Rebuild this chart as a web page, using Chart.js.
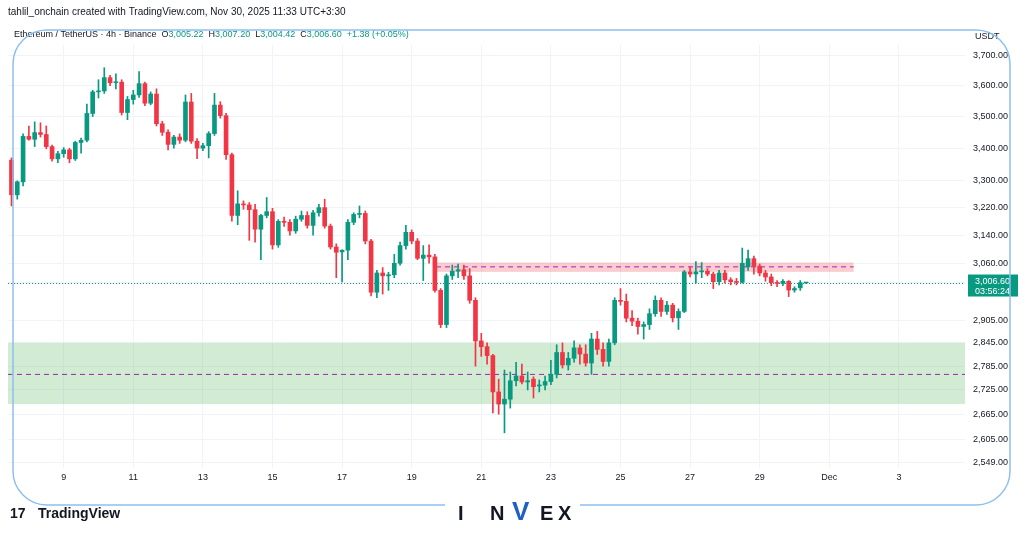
<!DOCTYPE html>
<html>
<head>
<meta charset="utf-8">
<script src="https://cdn.jsdelivr.net/npm/chart.js@4.4.1/dist/chart.umd.min.js"></script>
<style>
  html, body { margin: 0; padding: 0; background: #fff; }
  #wrap { width: 1024px; height: 538px; position: relative; }
</style>
</head>
<body>
<div id="wrap"><canvas id="chart" width="1024" height="538"></canvas></div>
<script>
// 4h candles, open / high / low / close, starting Nov 7 12:00
let candles = [
    [3363,3370,3225,3258],[3258,3300,3245,3297],[3297,3445,3285,3437],[3437,3470,3425,3428],
    [3428,3483,3405,3449],[3449,3480,3435,3443],[3443,3470,3398,3405],[3405,3410,3360,3367],
    [3367,3390,3355,3383],[3383,3402,3372,3395],[3395,3400,3355,3367],[3367,3422,3362,3418],
    [3418,3432,3385,3425],[3425,3540,3420,3510],[3510,3585,3500,3580],[3580,3620,3560,3583],
    [3583,3660,3575,3627],[3627,3635,3600,3610],[3610,3640,3590,3612],[3612,3620,3505,3513],
    [3513,3565,3490,3555],[3555,3585,3540,3570],[3570,3647,3562,3607],[3607,3612,3535,3543],
    [3543,3580,3538,3573],[3573,3590,3470,3477],[3477,3485,3440,3450],[3450,3458,3395,3412],
    [3412,3440,3400,3435],[3435,3445,3415,3425],[3425,3570,3420,3547],[3547,3575,3415,3422],
    [3422,3430,3368,3400],[3400,3415,3392,3408],[3408,3452,3370,3446],[3446,3575,3440,3537],
    [3537,3548,3495,3503],[3503,3510,3365,3380],[3380,3385,3180,3197],[3197,3270,3170,3231],
    [3231,3240,3215,3228],[3228,3235,3125,3214],[3214,3230,3120,3157],[3157,3200,3070,3197],
    [3197,3250,3190,3208],[3208,3218,3100,3112],[3112,3185,3105,3180],[3180,3192,3165,3177],
    [3177,3185,3140,3152],[3152,3195,3145,3186],[3186,3210,3180,3197],[3197,3208,3160,3168],
    [3168,3212,3140,3205],[3205,3230,3195,3220],[3220,3245,3160,3166],[3166,3172,3100,3106],
    [3106,3115,3020,3091],[3092,3098,3008,3097],[3097,3185,3070,3177],[3177,3205,3170,3200],
    [3200,3225,3190,3203],[3203,3210,3115,3123],[3123,3128,2970,2980],[2980,3040,2965,3033],
    [3033,3048,2975,3025],[3025,3035,2985,3028],[3028,3085,3020,3060],[3060,3120,3055,3110],
    [3110,3168,3100,3148],[3148,3155,3115,3123],[3123,3130,3070,3074],[3074,3110,3012,3083],
    [3083,3112,3060,3078],[3078,3085,2980,2985],[2985,2990,2885,2893],[2893,3030,2885,3025],
    [3025,3055,3015,3038],[3038,3058,3020,3042],[3042,3055,3015,3025],[3025,3045,2950,2958],
    [2958,2965,2785,2850],[2850,2870,2810,2835],[2835,2845,2790,2812],[2812,2815,2668,2720],
    [2720,2752,2665,2690],[2690,2775,2620,2702],[2702,2770,2680,2748],[2748,2795,2735,2760],
    [2760,2790,2740,2745],[2745,2770,2725,2748],[2752,2758,2705,2733],[2735,2750,2720,2737],
    [2737,2760,2725,2746],[2746,2800,2738,2764],[2764,2840,2755,2820],[2820,2845,2780,2788],
    [2788,2820,2775,2805],[2805,2850,2795,2832],[2832,2840,2790,2816],[2816,2840,2785,2793],
    [2793,2870,2764,2855],[2855,2875,2815,2828],[2828,2845,2785,2797],[2797,2855,2785,2845],
    [2845,2965,2840,2958],[2958,2990,2945,2955],[2955,2975,2900,2910],[2910,2930,2890,2902],
    [2902,2910,2868,2888],[2888,2900,2855,2893],[2893,2935,2880,2922],[2922,2970,2915,2958],
    [2958,2965,2915,2928],[2928,2955,2920,2945],[2945,2950,2900,2911],[2911,2935,2880,2928],
    [2928,3040,2925,3036],[3036,3050,3022,3030],[3030,3065,3005,3036],[3036,3062,3020,3038],
    [3038,3045,3025,3030],[3030,3035,2990,3009],[3009,3040,3000,3033],[3033,3040,3005,3014],
    [3014,3020,3000,3009],[3009,3018,3000,3007],[3007,3103,3005,3060],[3050,3097,3040,3073],
    [3073,3080,3030,3052],[3052,3058,3025,3033],[3033,3040,3010,3022],[3022,3030,2998,3006],
    [3006,3012,2995,3004],[3004,3015,2998,3010],[3010,3012,2968,2986],[2986,2995,2980,2990],
    [2992,3012,2985,3006],[3005.22,3007.20,3004.42,3006.60]
]
let startDay = 7.5
let xTicks = [9, 11, 13, 15, 17, 19, 21, 23, 25, 27, 29, 31, 33]
let xTickLabels = ['9', '11', '13', '15', '17', '19', '21', '23', '25', '27', '29', 'Dec', '3']
let yTicks = [2549, 2605, 2665, 2725, 2785, 2845, 2905, 3006.6, 3060, 3140, 3220, 3300, 3400, 3500, 3600, 3700]
let supplyZone = [3036, 3062, 3050]   // low, high, mid line
let supplyZoneDays = [19.7, 31.7]
let demandZone = [2690, 2845, 2764]
let lastPrice = 3006.6

const UP = '#089981'
const DOWN = '#f23645'

let wicks = []
let bodies = []
let colors = []
for (let i = 0; i < candles.length; i++) {
    let c = candles[i]
    let t = startDay + i / 6
    wicks.push({x: t, y: [c[2], c[1]]})
    bodies.push({x: t, y: [c[0], c[3]]})
    colors.push(c[3] >= c[0] ? UP : DOWN)
}

function fmt(v) {
    return v.toLocaleString('en-US', {minimumFractionDigits: 2, maximumFractionDigits: 2})
}

let overlay = {
    id: 'overlay',
    beforeDatasetsDraw(chart) {
        let ctx = chart.ctx
        let a = chart.chartArea
        let x = chart.scales.x
        let y = chart.scales.y
        ctx.save()
        // demand zone
        ctx.fillStyle = 'rgba(76, 175, 80, 0.25)'
        let gy1 = y.getPixelForValue(demandZone[1])
        let gy0 = y.getPixelForValue(demandZone[0])
        ctx.fillRect(a.left, gy1, a.right - a.left, gy0 - gy1)
        // supply zone
        ctx.fillStyle = 'rgba(242, 54, 69, 0.25)'
        let rx0 = x.getPixelForValue(supplyZoneDays[0])
        let rx1 = x.getPixelForValue(supplyZoneDays[1])
        let ry1 = y.getPixelForValue(supplyZone[1])
        let ry0 = y.getPixelForValue(supplyZone[0])
        ctx.fillRect(rx0, ry1, rx1 - rx0, ry0 - ry1)
        ctx.strokeStyle = '#9c27b0'
        ctx.lineWidth = 1
        ctx.setLineDash([5, 4])
        ctx.beginPath()
        let my = y.getPixelForValue(supplyZone[2])
        ctx.moveTo(rx0, my); ctx.lineTo(rx1, my)
        my = y.getPixelForValue(demandZone[2])
        ctx.moveTo(a.left, my); ctx.lineTo(a.right, my)
        ctx.stroke()
        // last price line
        ctx.strokeStyle = UP
        ctx.setLineDash([1, 2])
        ctx.beginPath()
        let py = Math.round(y.getPixelForValue(lastPrice)) + 0.5
        ctx.moveTo(a.left, py); ctx.lineTo(a.right, py)
        ctx.stroke()
        ctx.restore()
    },
    afterDraw(chart) {
        let ctx = chart.ctx
        let y = chart.scales.y
        ctx.save()
        // price label
        let py = y.getPixelForValue(lastPrice)
        ctx.fillStyle = UP
        ctx.fillRect(968, py - 8, 50, 22)
        ctx.fillStyle = '#fff'
        ctx.font = '9px "Liberation Sans", Arial'
        ctx.textBaseline = 'middle'
        ctx.fillText(fmt(lastPrice), 975, py - 1)
        ctx.fillText('03:56:24', 975, py + 9)
        ctx.fillStyle = '#131722'
        ctx.fillText('USDT', 975, 37)

        // header
        ctx.font = '10px "Liberation Sans", Arial'
        ctx.fillStyle = '#131722'
        ctx.fillText('tahlil_onchain created with TradingView.com, Nov 30, 2025 11:33 UTC+3:30', 8, 12)
        ctx.font = '9px "Liberation Sans", Arial'
        let hx = 14
        let parts = [
            ['Ethereum / TetherUS \u00b7 4h \u00b7 Binance  ', '#131722'],
            ['O', '#131722'], ['3,005.22  ', UP],
            ['H', '#131722'], ['3,007.20  ', UP],
            ['L', '#131722'], ['3,004.42  ', UP],
            ['C', '#131722'], ['3,006.60  ', UP],
            ['+1.38 (+0.05%)', UP]
        ]
        for (let p of parts) {
            ctx.fillStyle = p[1]
            ctx.fillText(p[0], hx, 35)
            hx += ctx.measureText(p[0]).width
        }

        // frame
        ctx.strokeStyle = '#8ec0ee'
        ctx.lineWidth = 1.5
        ctx.beginPath()
        ctx.roundRect(13, 30, 997, 475, 34)
        ctx.stroke()
        ctx.fillStyle = '#fff'
        ctx.fillRect(445, 495, 135, 30)

        // watermark logos
        ctx.fillStyle = '#131722'
        ctx.font = 'bold 20px "Liberation Sans", Arial'
        ctx.textBaseline = 'alphabetic'
        ctx.fillText('I', 458, 520)
        ctx.fillText('N', 490, 520)
        ctx.fillText('E', 540, 520)
        ctx.fillText('X', 558, 520)
        ctx.fillStyle = '#1f5fc8'
        ctx.font = 'bold 26px "Liberation Sans", Arial'
        ctx.fillText('V', 512, 520)
        ctx.fillStyle = '#131722'
        ctx.font = 'bold 14px "Liberation Sans", Arial'
        ctx.fillText('17', 10, 518)
        ctx.fillText('TradingView', 38, 518)
        ctx.restore()
    }
}

new Chart(document.getElementById('chart'), {
    type: 'bar',
    data: {
        datasets: [
            {data: wicks, backgroundColor: colors, barThickness: 1, grouped: false, minBarLength: 1},
            {data: bodies, backgroundColor: colors, barThickness: 4, grouped: false, minBarLength: 1}
        ]
    },
    options: {
        responsive: false,
        animation: false,
        layout: {padding: {left: 8, top: 45, right: 0, bottom: 0}},
        plugins: {legend: {display: false}, tooltip: {enabled: false}},
        scales: {
            x: {
                type: 'linear',
                offset: false,
                min: 7.4,
                max: 34.9,
                afterBuildTicks: s => { s.ticks = xTicks.map(v => ({value: v})) },
                afterFit: s => { s.height = 70 },
                ticks: {
                    callback: (v) => xTickLabels[xTicks.indexOf(v)],
                    color: '#131722',
                    font: {size: 9, family: 'Liberation Sans'},
                    maxRotation: 0,
                    padding: 4
                },
                grid: {color: '#f0f3fa', drawTicks: false, offset: false},
                border: {display: false}
            },
            y: {
                type: 'logarithmic',
                position: 'right',
                min: 2537,
                max: 3737,
                afterBuildTicks: s => { s.ticks = yTicks.map(v => ({value: v})) },
                afterFit: s => { s.width = 59 },
                ticks: {
                    callback: v => fmt(v),
                    color: '#131722',
                    font: {size: 9, family: 'Liberation Sans'},
                    padding: 8
                },
                grid: {color: '#f0f3fa', drawTicks: false},
                border: {display: false}
            }
        }
    },
    plugins: [overlay]
})
</script>
</body>
</html>
